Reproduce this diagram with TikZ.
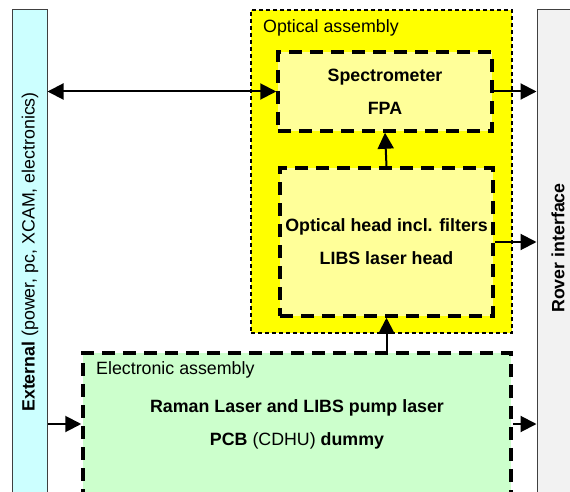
\documentclass[tikz,border=0pt]{standalone}
\usepackage{fontspec}
\setmainfont{Liberation Sans}
\usepackage{xcolor}
\usetikzlibrary{arrows.meta}

\definecolor{extcyan}{HTML}{CCFFFF}
\definecolor{rovergray}{HTML}{F2F2F2}
\definecolor{optyellow}{HTML}{FFFF00}
\definecolor{partyellow}{HTML}{FFFF99}
\definecolor{elecgreen}{HTML}{CCFFCC}

\begin{document}
\begin{tikzpicture}[x=1pt, y=-1pt,
  font=\fontsize{17.8}{33}\selectfont,
  barbox/.style={rectangle, draw=black!75, line width=1pt, inner sep=0pt},
  assybox/.style={rectangle, draw=black, dashed, line width=1.5pt,
    dash pattern=on 4pt off 3pt, fill=optyellow, inner sep=0pt},
  partbox/.style={rectangle, draw=black, line width=3.5pt,
    dash pattern=on 13pt off 8pt, fill=partyellow, inner sep=0pt,
    align=center, font=\fontsize{17.8}{33}\selectfont\bfseries},
  elecbox/.style={partbox, fill=elecgreen},
  arr/.style={-{Triangle[length=16pt, width=16pt]}, line width=2pt},
  dblarr/.style={{Triangle[length=16pt, width=16pt]}-{Triangle[length=16pt, width=16pt]}, line width=2pt}
]
  \useasboundingbox (0,0) rectangle (570,492);
  \clip (0,0) rectangle (570,492);

  % side bars
  \node[barbox, fill=extcyan, minimum width=35pt, minimum height=490pt] (ext) at (29.5, 255) {};
  \node[barbox, fill=rovergray, minimum width=45pt, minimum height=490pt] (rover) at (559.5, 255) {};
  \node[rotate=90] (extlabel) at (30, 252) {\textbf{External} (power, pc, XCAM, electronics)};
  \node[rotate=90, font=\fontsize{17.8}{33}\selectfont\bfseries] (roverlabel) at (558, 248) {Rover interface};

  % optical assembly
  \node[assybox, minimum width=261pt, minimum height=323pt] (opt) at (381.5, 171.5) {};
  \node[anchor=west, inner sep=0pt] (optlabel) at (263, 28) {Optical assembly};
  \node[partbox, minimum width=214pt, minimum height=79pt] (spec) at (385, 91.5) {Spectrometer\\FPA};
  \node[partbox, minimum width=213pt, minimum height=148pt] (head) at (386.5, 242) {Optical head incl. filters\\LIBS laser head};

  % electronic assembly
  \node[elecbox, minimum width=428pt, minimum height=142pt] (elec) at (297, 424) {};
  \node[font=\fontsize{17.8}{33}\selectfont\bfseries, align=center] (electext) at (297, 424.5)
    {Raman Laser and LIBS pump laser\\PCB \textmd{(CDHU)} dummy};
  \node[anchor=west, inner sep=0pt] (eleclabel) at (96, 370) {Electronic assembly};

  % connections
  \draw[dblarr] (ext.east |- spec.west) -- (spec.west);
  \draw[arr] (spec.east) -- (rover.west |- spec.east);
  \draw[arr] (head.east) -- (rover.west |- head.east);
  \draw[arr] (head.north) -- (spec.south);
  \draw[arr] (head.south |- elec.north) -- (head.south);
  \draw[arr] (ext.east |- elec.west) -- (elec.west);
  \draw[arr] (elec.east) -- (rover.west |- elec.east);
\end{tikzpicture}
\end{document}
